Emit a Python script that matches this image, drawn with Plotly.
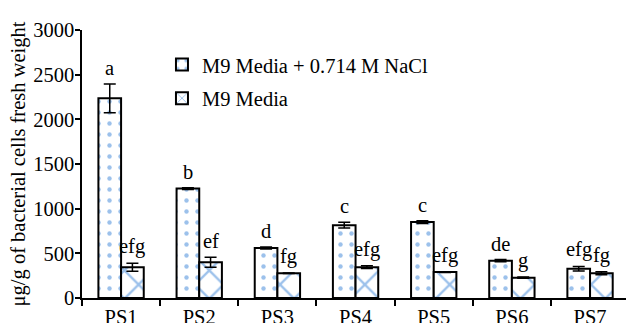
import plotly.graph_objects as go

categories = ["PS1", "PS2", "PS3", "PS4", "PS5", "PS6", "PS7"]
salt_vals = [2235, 1225, 560, 815, 850, 418, 328]
salt_err = [160, 10, 12, 32, 15, 12, 25]
salt_letters = ["a", "b", "d", "c", "c", "de", "efg"]
m9_vals = [345, 400, 277, 345, 290, 228, 277]
m9_err = [45, 55, 4, 15, 4, 8, 18]
m9_letters = ["efg", "ef", "fg", "efg", "efg", "g", "fg"]
y_ticks = [0, 500, 1000, 1500, 2000, 2500, 3000]

FONT = "Liberation Serif"
BLUE = "#3A84D8"
FS = 20.5

fig = go.Figure()
fig.add_trace(go.Bar(
    name="M9 Media + 0.714 M NaCl", x=categories, y=salt_vals,
    legendgroup="a",
    marker=dict(color="white", line=dict(color="black", width=2),
                pattern=dict(shape=".", fgcolor=BLUE, bgcolor="white", size=11, solidity=0.13)),
    error_y=dict(type="data", array=salt_err, color="black", thickness=1.5, width=6),
))
fig.add_trace(go.Bar(
    name="M9 Media", x=categories, y=m9_vals,
    legendgroup="b",
    marker=dict(color="white", line=dict(color="black", width=2),
                pattern=dict(shape="x", fgcolor=BLUE, bgcolor="white", size=20, solidity=0.22)),
    error_y=dict(type="data", array=m9_err, color="black", thickness=1.5, width=6),
))

annotations = []
for i, c in enumerate(categories):
    for vals, errs, letters, shift in ((salt_vals, salt_err, salt_letters, -11.3),
                                       (m9_vals, m9_err, m9_letters, 11.3)):
        annotations.append(dict(
            x=c, y=vals[i] + errs[i], text=letters[i], showarrow=False,
            xshift=shift, yshift=3, yanchor="bottom", xanchor="center",
            font=dict(family=FONT, size=FS, color="black"),
        ))

fig.update_layout(
    width=626, height=323,
    margin=dict(l=82, r=0, t=30, b=25, autoexpand=False),
    paper_bgcolor="white", plot_bgcolor="white",
    barmode="group", bargap=0.42, bargroupgap=0,
    font=dict(family=FONT, size=FS, color="black"),
    showlegend=True,
    legend=dict(x=0.147, y=0.945, xanchor="left", yanchor="top",
                bgcolor="rgba(0,0,0,0)", font=dict(family=FONT, size=FS, color="black"),
                traceorder="grouped", tracegroupgap=4),
    annotations=annotations,
)
fig.update_xaxes(
    range=[-0.5, 6.46], showline=True, linecolor="black", linewidth=1.5,
    ticks="outside", tickson="boundaries", ticklen=6, tickcolor="black", tickwidth=1.5,
    showgrid=False, tickfont=dict(family=FONT, size=FS, color="black"), automargin=False,
)
fig.update_yaxes(
    range=[0, 3000], tickvals=y_ticks, showline=True, linecolor="black", linewidth=1.5,
    ticks="outside", ticklen=5, tickcolor="black", tickwidth=1.5, ticklabelstandoff=-3,
    showgrid=False, zeroline=False, tickfont=dict(family=FONT, size=FS, color="black"),
    title=dict(text="μg/g of bacterial cells fresh weight",
               font=dict(family=FONT, size=FS, color="black"), standoff=2),
    automargin=False,
)

fig.write_html("out.html")
